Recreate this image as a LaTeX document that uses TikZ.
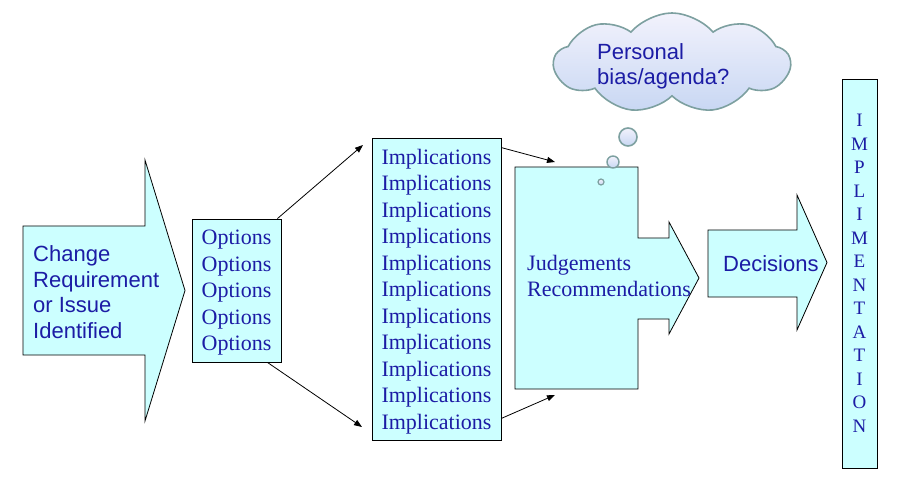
\documentclass[tikz,border=0pt]{standalone}
\usepackage{fontspec}
\setmainfont{Liberation Serif}
\setsansfont{Liberation Sans}
\usetikzlibrary{shapes.symbols,arrows.meta}
\definecolor{aqua}{RGB}{204,255,255}
\definecolor{ink}{RGB}{28,28,165}
\definecolor{mist}{RGB}{125,160,160}
\definecolor{skyhi}{RGB}{242,242,252}
\definecolor{skylo}{RGB}{200,215,243}

\begin{document}
\begin{tikzpicture}[x=1pt,y=-1pt,
  box/.style={draw=black,line width=0.8pt,fill=aqua,text=ink,align=center,inner sep=0pt,font=\fontsize{22}{26.5}\selectfont},
  blk/.style={draw=black,line width=0.8pt,fill=aqua},
  lbl/.style={text=ink,align=left,inner sep=0pt,anchor=west,font=\fontsize{22}{26.5}\selectfont},
  puff/.style={draw=mist,line width=1.6pt,top color=skyhi,bottom color=skylo},
  link/.style={-{Triangle[length=8pt,width=6pt]},line width=0.8pt}]
  \useasboundingbox (0,0) rectangle (900,481);
  \draw[blk] (23,226) -- (145,226) -- (145,160) -- (185,290.5) -- (145,421) -- (145,355) -- (23,355) -- cycle;
  \node[lbl,font=\sffamily\fontsize{22}{25.7}\selectfont] (chg) at (33,292) {Change\\Requirement\\or Issue\\Identified};
  \node[box,minimum width=89pt,minimum height=143pt,text depth=-1pt] (opt) at (236.5,290.5) {Options\\Options\\Options\\Options\\Options};
  \node[box,minimum width=129pt,minimum height=302pt,text depth=-1pt] (imp) at (436.5,289) {Implications\\Implications\\Implications\\Implications\\Implications\\Implications\\Implications\\Implications\\Implications\\Implications\\Implications};
  \draw[blk] (515,167) -- (638,167) -- (638,238) -- (669,238) -- (669,222) -- (699,278) -- (669,334) -- (669,319) -- (638,319) -- (638,389) -- (515,389) -- cycle;
  \node[lbl] (judge) at (527,276) {Judgements\\Recommendations};
  \draw[blk] (708,230) -- (797,230) -- (797,195) -- (827,262.5) -- (797,330) -- (797,297) -- (708,297) -- cycle;
  \node[lbl,font=\sffamily\fontsize{22}{26}\selectfont] (dec) at (723,264) {Decisions};
  \node[box,minimum width=35pt,minimum height=389pt,font=\fontsize{19}{23.5}\selectfont] (impl) at (859.5,273.5) {I\\M\\P\\L\\I\\M\\E\\N\\T\\A\\T\\I\\O\\N};
  \node[puff,cloud,cloud puffs=9,cloud puff arc=100,aspect=2.4,minimum width=236pt,minimum height=100pt] (bias) at (672,63) {};
  \node[lbl,font=\sffamily\fontsize{22}{25}\selectfont] (biastxt) at (597,66) {Personal\\bias/agenda?};
  \node[puff,circle,inner sep=0pt,minimum size=18pt] (b1) at (628,137) {};
  \node[puff,circle,inner sep=0pt,minimum size=12pt,line width=1.4pt] (b2) at (613,162) {};
  \node[puff,circle,inner sep=0pt,minimum size=6pt,line width=1.2pt] (b3) at (601,182) {};
  \coordinate (t1) at (363,145);
  \coordinate (t2) at (362,427);
  \coordinate (j1) at (555,162);
  \coordinate (j2) at (555,395);
  \draw[link] ([xshift=-4pt]opt.north east) -- (t1);
  \draw[link] ([xshift=-14pt]opt.south east) -- (t2);
  \draw[link] ([yshift=-10pt]imp.north east) -- (j1);
  \draw[link] ([yshift=22pt]imp.south east) -- (j2);
\end{tikzpicture}
\end{document}
